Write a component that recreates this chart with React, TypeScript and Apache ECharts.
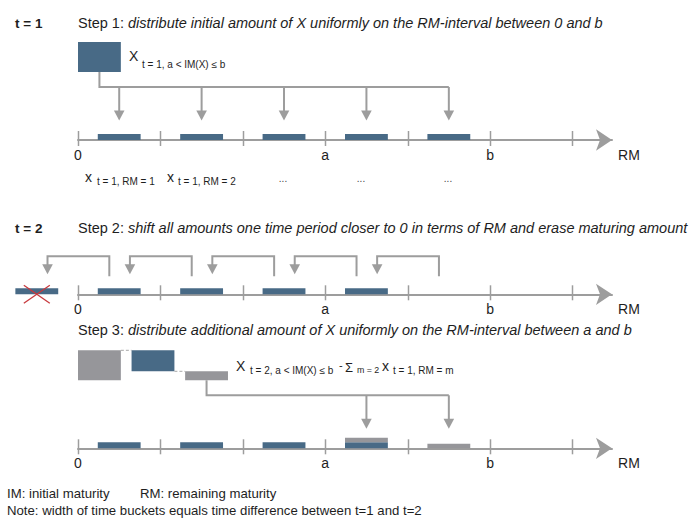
import React, { useEffect, useRef } from 'react';
import * as echarts from 'echarts';

// ---------- colours ----------
const BLUE = '#486a86';
const GRAY = '#96969a';
const LINE = '#9d9d9d';
const RED = '#c83a3e';
const TEXT = '#1e1e1e';
const FONT = 'Liberation Sans, Arial, Helvetica, sans-serif';

// ---------- axis (remaining maturity, in time buckets) ----------
const TICKS = [0, 1, 2, 3, 4, 5, 6];
const AXIS_LABELS: Record<number, string> = { 0: '0', 3: 'a', 5: 'b' };
const AXIS_NAME = 'RM';

// ---------- step 1: initial amount spread uniformly over buckets 1..5 ----------
const step1Source = 5; // X t=1, a < IM(X) <= b
const step1Buckets = [1, 2, 3, 4, 5];
const step1Amounts = [1, 1, 1, 1, 1];

// ---------- step 2: shift one period closer to 0 ----------
const step2Buckets = [1, 2, 3, 4];
const step2Amounts = [1, 1, 1, 1];
const maturedBucket = 0;
const maturedAmount = 1;
const shiftFrom = [1, 2, 3, 4, 5];

// ---------- step 3: distribute additional amount over buckets between a and b ----------
const step3Total = 5; // X t=2, a < IM(X) <= b
const step3Existing = 3.5; // sum of x t=1 already in the interval
const step3Additional = 1.5; // difference
const step3OldBuckets = [1, 2, 3, 4];
const step3OldAmounts = [1, 1, 1, 1];
const step3NewBuckets = [4, 5];
const step3NewAmounts = [0.75, 0.75];

// ---------- layout ----------
const AXIS_Y = [140, 294.3, 448.3];
const LEFT = 78;
const RIGHT = 82;
const XMAX = 6.48;
const ROW_H = 120;
const YMAX = 20;
const BAR_INSET = 0.24;
const BOX_W = 0.52;
const BOX_STEP = 0.65;
const BOX_LIFT = 68;
const MAIN = 14.5;
const FOOT = 13.2;
const SUB = 10;

type El = any;

function buildRows(): El[][] {
  const row1: El[] = [{ kind: 'ticks' }];
  step1Buckets.forEach((b, i) =>
    row1.push({ kind: 'bar', bucket: b, base: 0, amount: step1Amounts[i], color: BLUE })
  );
  row1.push({ kind: 'box', u: 0, lo: 0, hi: step1Source, color: BLUE });
  row1.push({ kind: 'dist', src: BOX_W / 2, targets: step1Buckets });

  const row2: El[] = [{ kind: 'ticks' }];
  step2Buckets.forEach((b, i) =>
    row2.push({ kind: 'bar', bucket: b, base: 0, amount: step2Amounts[i], color: BLUE })
  );
  row2.push({ kind: 'bar', bucket: maturedBucket, base: 0, amount: maturedAmount, color: BLUE, crossed: true });
  shiftFrom.forEach((k) => row2.push({ kind: 'shift', from: k }));

  const row3: El[] = [{ kind: 'ticks' }];
  const oldMap: Record<number, number> = {};
  step3OldBuckets.forEach((b, i) => {
    oldMap[b] = step3OldAmounts[i];
    row3.push({ kind: 'bar', bucket: b, base: 0, amount: step3OldAmounts[i], color: BLUE });
  });
  step3NewBuckets.forEach((b, i) =>
    row3.push({ kind: 'bar', bucket: b, base: oldMap[b] || 0, amount: step3NewAmounts[i], color: GRAY })
  );
  row3.push({ kind: 'box', u: 0, lo: 0, hi: step3Total, color: GRAY });
  row3.push({ kind: 'box', u: BOX_STEP, lo: step3Total - step3Existing, hi: step3Total, color: BLUE });
  row3.push({ kind: 'box', u: 2 * BOX_STEP, lo: 0, hi: step3Additional, color: GRAY });
  row3.push({ kind: 'dash', u1: BOX_W, u2: BOX_STEP, v: step3Total });
  row3.push({ kind: 'dash', u1: BOX_STEP + BOX_W, u2: 2 * BOX_STEP, v: step3Additional });
  row3.push({ kind: 'dist', src: 2 * BOX_STEP + BOX_W / 2, targets: step3NewBuckets });
  return [row1, row2, row3];
}

function head(x: number, tipY: number) {
  return {
    type: 'polygon',
    shape: { points: [[x - 5.3, tipY - 10], [x + 5.3, tipY - 10], [x, tipY]] },
    style: { fill: LINE },
  };
}

function makeRender(items: El[]) {
  return (params: any, api: any) => {
    const d = items[params.dataIndex];
    const c = (u: number, v = 0) => api.coord([u, v]);
    const y0 = c(0, 0)[1];
    const stroke = { stroke: LINE, lineWidth: 2, fill: null };
    if (d.kind === 'ticks') {
      return {
        type: 'group',
        children: TICKS.map((t) => {
          const x = Math.round(c(t)[0]) + 0.5;
          return { type: 'line', shape: { x1: x, y1: y0 - 9, x2: x, y2: y0 + 6 }, style: { stroke: LINE, lineWidth: 1.5 } };
        }),
      };
    }
    if (d.kind === 'bar') {
      const p1 = c(d.bucket - 1 + BAR_INSET, d.base + d.amount);
      const p2 = c(d.bucket - BAR_INSET, d.base);
      const children: any[] = [
        { type: 'rect', shape: { x: p1[0], y: p1[1], width: p2[0] - p1[0], height: p2[1] - p1[1] }, style: { fill: d.color } },
      ];
      if (d.crossed) {
        const cx = (p1[0] + p2[0]) / 2;
        const cy = (p1[1] + p2[1]) / 2 + 3;
        children.push({ type: 'line', shape: { x1: cx - 13, y1: cy - 9, x2: cx + 13, y2: cy + 9 }, style: { stroke: RED, lineWidth: 1.3 } });
        children.push({ type: 'line', shape: { x1: cx - 13, y1: cy + 9, x2: cx + 13, y2: cy - 9 }, style: { stroke: RED, lineWidth: 1.3 } });
      }
      return { type: 'group', children };
    }
    if (d.kind === 'box') {
      const p1 = c(d.u, d.hi);
      const p2 = c(d.u + BOX_W, d.lo);
      return {
        type: 'rect',
        shape: { x: p1[0], y: p1[1] - BOX_LIFT, width: p2[0] - p1[0], height: p2[1] - p1[1] },
        style: { fill: d.color },
      };
    }
    if (d.kind === 'dash') {
      const p1 = c(d.u1, d.v);
      const p2 = c(d.u2, d.v);
      return {
        type: 'line',
        shape: { x1: p1[0], y1: p1[1] - BOX_LIFT, x2: p2[0], y2: p2[1] - BOX_LIFT },
        style: { stroke: '#a8a8a8', lineWidth: 1, lineDash: [3, 2] },
      };
    }
    if (d.kind === 'dist') {
      const sx = c(d.src)[0];
      const txs = d.targets.map((b: number) => c(b - 0.5)[0]);
      const top = y0 - BOX_LIFT;
      const ly = y0 - 53;
      const tip = y0 - 19.5;
      const children: any[] = [
        { type: 'polyline', shape: { points: [[sx, top], [sx, ly], [Math.max(...txs), ly]] }, style: stroke },
      ];
      txs.forEach((t: number) => {
        children.push({ type: 'line', shape: { x1: t, y1: ly, x2: t, y2: tip - 9 }, style: stroke });
        children.push(head(t, tip));
      });
      return { type: 'group', children };
    }
    if (d.kind === 'shift') {
      const rx = c(d.from - 0.5 - 0.12)[0];
      const lx = c(d.from - 1.5 + 0.13)[0];
      const hy = y0 - 38;
      const by = y0 - 18;
      const tip = y0 - 20;
      return {
        type: 'group',
        children: [
          { type: 'polyline', shape: { points: [[rx, by], [rx, hy], [lx, hy], [lx, tip - 9]] }, style: stroke },
          head(lx, tip),
        ],
      };
    }
    return null;
  };
}

function txt(x: number, y: number, text: string, size = MAIN, extra: any = {}) {
  return {
    type: 'text',
    x,
    y,
    silent: true,
    style: { text, fontSize: size, fontFamily: FONT, fill: TEXT, verticalAlign: 'middle', align: 'left', ...extra },
  };
}

function stepText(x: number, y: number, label: string, body: string) {
  return {
    type: 'text',
    x,
    y,
    silent: true,
    style: {
      text: `{n|${label} }{i|${body}}`,
      verticalAlign: 'middle',
      rich: {
        n: { fontSize: MAIN, fontFamily: FONT, fill: TEXT },
        i: { fontSize: MAIN, fontFamily: FONT, fill: TEXT, fontStyle: 'italic' },
      },
    },
  };
}

export default function App() {
  const ref = useRef<HTMLDivElement>(null);
  useEffect(() => {
    if (!ref.current) return;
    const chart = echarts.init(ref.current, undefined, { renderer: 'svg' });
    const rows = buildRows();
    const grids = AXIS_Y.map((y) => ({ left: LEFT, right: RIGHT, top: y - ROW_H, height: ROW_H }));
    const xAxes = AXIS_Y.map((_, i) => ({
      type: 'value',
      gridIndex: i,
      min: 0,
      max: XMAX,
      interval: 1,
      splitLine: { show: false },
      axisTick: { show: false },
      axisLine: { show: true, lineStyle: { color: LINE, width: 2 }, symbol: ['none', 'arrow'], symbolSize: [16, 16] },
      axisLabel: {
        show: true,
        margin: 8,
        fontSize: 14,
        color: TEXT,
        fontFamily: FONT,
        showMaxLabel: false,
        formatter: (v: number) => AXIS_LABELS[Math.round(v * 1000) / 1000] ?? '',
      },
      name: AXIS_NAME,
      nameLocation: 'end',
      nameGap: 17,
      nameTextStyle: { fontSize: 14, color: TEXT, fontFamily: FONT, align: 'center', verticalAlign: 'top', padding: [8, 0, 0, 0] },
    }));
    const yAxes = AXIS_Y.map((_, i) => ({ type: 'value', gridIndex: i, min: 0, max: YMAX, show: false }));
    const series = rows.map((items, i) => ({
      type: 'custom',
      xAxisIndex: i,
      yAxisIndex: i,
      clip: false,
      silent: true,
      renderItem: makeRender(items),
      data: items.map(() => [0, 0]),
      z: 3,
    }));
    const graphic = [
      txt(15, 23, 't = 1', 13.5, { fontWeight: 'bold' }),
      stepText(78, 23, 'Step 1:', 'distribute initial amount of X uniformly on the RM-interval between 0 and b'),
      txt(129, 56, 'X', 14),
      txt(142, 64, 't = 1, a < IM(X) ≤ b', SUB),
      txt(85, 177, 'x', 14),
      txt(97, 181, 't = 1, RM = 1', SUB),
      txt(167, 177, 'x', 14),
      txt(178, 181, 't = 1, RM = 2', SUB),
      txt(283, 178, '...', 10, { align: 'center', fill: '#444' }),
      txt(361, 178, '...', 10, { align: 'center', fill: '#444' }),
      txt(448, 178, '...', 10, { align: 'center', fill: '#444' }),

      txt(15, 228, 't = 2', 13.5, { fontWeight: 'bold' }),
      stepText(78, 228, 'Step 2:', 'shift all amounts one time period closer to 0 in terms of RM and erase maturing amount'),

      stepText(78, 330, 'Step 3:', 'distribute additional amount of X uniformly on the RM-interval between a and b'),
      txt(236, 366, 'X', 14),
      txt(250, 370, 't = 2, a < IM(X) ≤ b', SUB),
      txt(339, 365, '-', 11),
      txt(345, 367, 'Σ', 13),
      txt(357, 370, 'm = 2', 8.8),
      txt(382, 366, 'x', 14),
      txt(393, 370, 't = 1, RM = m', SUB),

      txt(7, 493, 'IM: initial maturity', FOOT),
      txt(140, 493, 'RM: remaining maturity', FOOT),
      txt(7, 510, 'Note: width of time buckets equals time difference between t=1 and t=2', FOOT),
    ];
    chart.setOption({
      animation: false,
      backgroundColor: '#ffffff',
      textStyle: { fontFamily: FONT },
      grid: grids,
      xAxis: xAxes,
      yAxis: yAxes,
      series,
      graphic,
    });
    return () => chart.dispose();
  }, []);
  return <div ref={ref} style={{ position: 'fixed', left: 0, top: 0, width: 694, height: 518 }} />;
}
